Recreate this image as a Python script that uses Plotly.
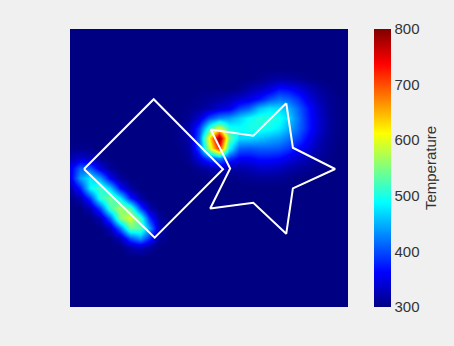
import plotly.graph_objects as go

# Temperature field sampled on a regular grid (cell centres at integer coordinates 0..28),
# rows listed from top (y=28) to bottom (y=0), values read from the picture.
B = 300
temp_rows_top_to_bottom = [
    [B]*29,  # y=28
    [B]*29,  # y=27
    [B]*29,  # y=26
    [B]*29,  # y=25
    [B]*29,  # y=24
    [B]*19 + [305, 312, 318, 315, 310, 305] + [B]*4,  # y=23
    [B]*17 + [305, 320, 330, 345, 370, 365, 350, 330, 315, 305] + [B]*2,  # y=22
    [B]*13 + [305, 310, 315, 325, 340, 350, 370, 400, 420, 410, 385, 350, 325, 310, 302] + [B],  # y=21
    [B]*12 + [305, 310, 320, 340, 350, 390, 410, 455, 475, 470, 450, 410, 370, 335, 312, 303] + [B],  # y=20
    [B]*12 + [310, 340, 400, 430, 440, 465, 490, 505, 505, 495, 470, 420, 375, 340, 315, 303] + [B],  # y=19
    [B]*11 + [305, 325, 390, 510, 600, 500, 490, 500, 500, 495, 480, 450, 415, 375, 340, 314, 303] + [B],  # y=18
    [B]*11 + [305, 320, 410, 615, 800, 540, 470, 470, 460, 450, 440, 420, 395, 360, 330, 312, 302] + [B],  # y=17
    [303, 306, 303] + [B]*8 + [303, 315, 400, 580, 730, 490, 410, 405, 410, 410, 405, 390, 365, 345, 320, 308] + [B]*2,  # y=16
    [320, 338, 328, 307] + [B]*8 + [308, 350, 400, 430, 390, 360, 360, 370, 370, 365, 350, 335, 325, 312, 304] + [B]*2,  # y=15
    [350, 410, 405, 345, 311] + [B]*8 + [310, 320, 330, 320, 320, 325, 335, 335, 330, 320, 315, 308, 303] + [B]*3,  # y=14
    [348, 440, 480, 440, 357, 313] + [B]*11 + [305, 308, 310, 310, 308, 305] + [B]*6,  # y=13
    [318, 376, 485, 520, 465, 366, 317] + [B]*22,  # y=12
    [302, 322, 390, 505, 545, 485, 378, 320] + [B]*21,  # y=11
    [B, B, 324, 398, 520, 570, 525, 396, 323] + [B]*20,  # y=10
    [B, B, B, 324, 409, 550, 595, 517, 386, 315] + [B]*19,  # y=9
    [B]*4 + [329, 419, 537, 530, 444, 328] + [B]*19,  # y=8
    [B]*5 + [326, 402, 440, 386, 312] + [B]*19,  # y=7
    [B]*6 + [318, 333, 314] + [B]*20,  # y=6
    [B]*29,  # y=5
    [B]*29,  # y=4
    [B]*29,  # y=3
    [B]*29,  # y=2
    [B]*29,  # y=1
    [B]*29,  # y=0
]
grid_x = list(range(29))
grid_y = list(range(29))
temperature = temp_rows_top_to_bottom[::-1]

# Outline of the square (diamond) and the star, in the same coordinates
square_x = [1.41, 8.43, 15.41, 8.53, 1.41]
square_y = [13.90, 20.92, 13.87, 6.98, 13.90]
star_x = [21.78, 22.45, 26.70, 22.45, 21.78, 18.46, 14.12, 16.13, 14.17, 18.46, 21.78]
star_y = [20.52, 16.04, 13.90, 11.95, 7.37, 10.50, 9.92, 13.95, 17.88, 17.25, 20.52]

cbar_ticks = [300, 400, 500, 600, 700, 800]

jet = [
    [0.0, "rgb(0,0,131)"],
    [0.125, "rgb(0,0,255)"],
    [0.375, "rgb(0,255,255)"],
    [0.625, "rgb(255,255,0)"],
    [0.875, "rgb(255,0,0)"],
    [1.0, "rgb(128,0,0)"],
]

FONT = "Liberation Sans, Arial, sans-serif"
TXT = "#333333"

fig = go.Figure()
fig.add_trace(go.Heatmap(
    x=grid_x, y=grid_y, z=temperature,
    zsmooth="best", colorscale=jet, zmin=300, zmax=800,
    colorbar=dict(
        x=(374 - 70) / 278, xanchor="left", xref="paper", xpad=0,
        y=1, yanchor="top", ypad=0,
        len=278, lenmode="pixels",
        thickness=17, thicknessmode="pixels",
        outlinewidth=0,
        tickvals=cbar_ticks, ticks="",
        tickfont=dict(family=FONT, size=15, color=TXT),
        title=dict(text="Temperature", side="right",
                   font=dict(family=FONT, size=15, color=TXT)),
    ),
    hoverinfo="skip",
))
fig.add_trace(go.Scatter(x=square_x, y=square_y, mode="lines",
                         line=dict(color="white", width=2), showlegend=False, hoverinfo="skip"))
fig.add_trace(go.Scatter(x=star_x, y=star_y, mode="lines",
                         line=dict(color="white", width=2), showlegend=False, hoverinfo="skip"))

fig.update_xaxes(range=[0, 28], visible=False, showgrid=False, zeroline=False)
fig.update_yaxes(range=[0, 28], visible=False, showgrid=False, zeroline=False)
fig.update_layout(
    width=454, height=346,
    margin=dict(l=70, r=106, t=29, b=39, autoexpand=False),
    paper_bgcolor="#f0f0f0", plot_bgcolor="#000083",
    showlegend=False,
)
fig.write_html("out.html", config={"displayModeBar": False},
               post_script="document.body.style.margin='0';document.body.style.background='#f0f0f0';")
